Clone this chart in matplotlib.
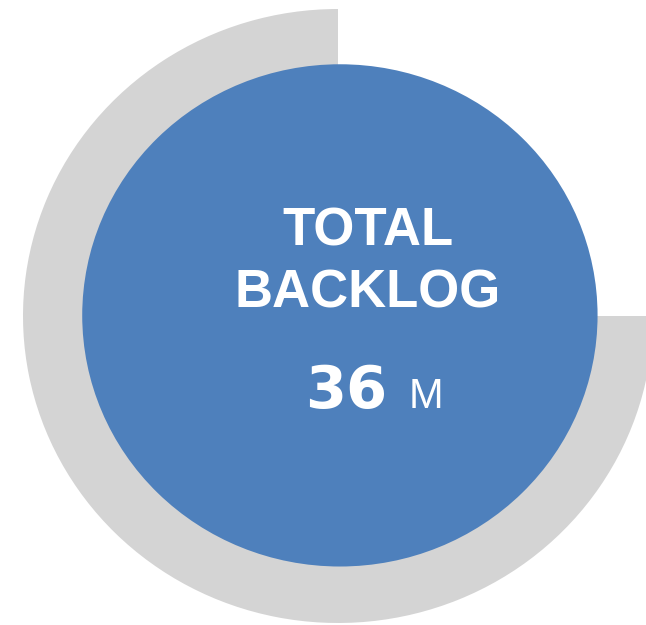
import matplotlib
matplotlib.use("Agg")
import matplotlib.pyplot as plt
from matplotlib.patches import Circle

# data
ring_values = [75, 25]          # share of ring that is filled (gray) vs empty
ring_colors = ["#D4D4D4", "none"]
title_lines = ["TOTAL", "BACKLOG"]
backlog_value = 36
backlog_unit = "M"

W, H = 646, 625
fig = plt.figure(figsize=(W / 100, H / 100), dpi=100)
ax = fig.add_axes([0, 0, 1, 1])

ax.pie(ring_values, colors=ring_colors, startangle=90, counterclock=True,
       radius=1.0, wedgeprops=dict(width=0.45, linewidth=0))
ax.add_patch(Circle((0.006, 0.002), 0.818, facecolor="#4E80BC", edgecolor="none", zorder=3))

ax.set_aspect("auto")
ax.set_xlim(-338 / 315, (W - 338) / 315)
ax.set_ylim(-(H - 316) / 307, 316 / 307)
ax.axis("off")

font = ["Liberation Sans", "DejaVu Sans"]
fig.text(368 / W, 1 - 246 / H, title_lines[0], ha="center", va="baseline",
         color="white", fontsize=38, fontweight="bold", family=font, zorder=5)
fig.text(368 / W, 1 - 308 / H, title_lines[1], ha="center", va="baseline",
         color="white", fontsize=38, fontweight="bold", family=font, zorder=5)
fig.text(346.5 / W, 1 - 408 / H, f"{backlog_value}", ha="center", va="baseline",
         color="white", fontsize=42.5, fontweight="bold", family="DejaVu Sans", zorder=5)
fig.text(425.5 / W, 1 - 408 / H, backlog_unit, ha="center", va="baseline",
         color="white", fontsize=30, family=font, zorder=5)

fig.savefig("out.png", dpi=100)
